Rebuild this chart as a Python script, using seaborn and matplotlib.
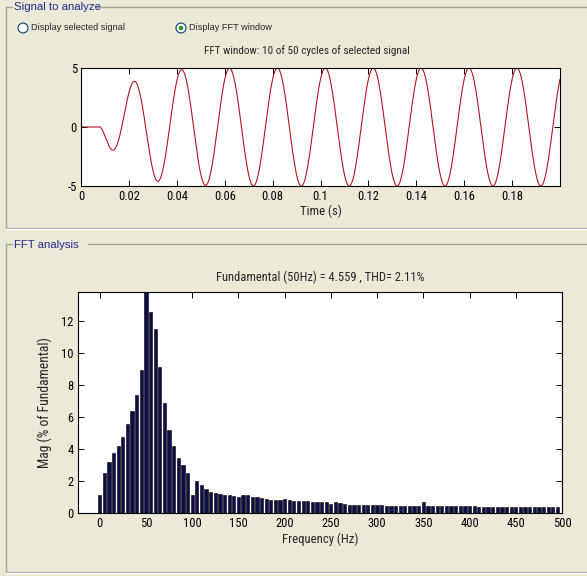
import numpy as np
import pandas as pd
import matplotlib
matplotlib.use("Agg")
import matplotlib.pyplot as plt
from matplotlib import font_manager
from matplotlib.lines import Line2D
from matplotlib.patches import Circle
import seaborn as sns

# ---------------- data ----------------
# Time-domain window: 50 Hz signal, 10 cycles (0 .. 0.2 s)
signal_freq_hz = 50.0
signal_amplitude = 5.0
signal_onset_s = 0.008      # signal is zero before this instant
signal_rise_tau_s = 0.0095  # build-up time constant of the envelope
signal_phase_rad = 0.3 * np.pi
window_length_s = 0.2
time_ticks = [0, 0.02, 0.04, 0.06, 0.08, 0.1, 0.12, 0.14, 0.16, 0.18]
time_tick_labels = ["0", "0.02", "0.04", "0.06", "0.08", "0.1", "0.12", "0.14", "0.16", "0.18"]
signal_yticks = [-5, 0, 5]

# FFT spectrum, 5 Hz resolution, magnitude in % of fundamental
freq_step_hz = 5
harmonic_mag = [
    1.10, 2.50, 3.20, 3.73, 4.18, 4.74, 5.55, 6.40, 7.37, 8.90,
    100.0, 12.55, 11.50, 9.13, 6.90, 5.20, 4.16, 3.44, 2.98, 2.50,
    1.10, 2.00, 1.72, 1.51, 1.33, 1.26, 1.20, 1.14, 1.10, 1.08,
    0.97, 1.14, 1.14, 1.03, 0.97, 0.91, 0.87, 0.83, 0.81, 0.81,
    0.87, 0.83, 0.77, 0.77, 0.77, 0.75, 0.70, 0.66, 0.66, 0.66,
    0.54, 0.66, 0.64, 0.58, 0.52, 0.50, 0.50, 0.50, 0.50, 0.50,
    0.50, 0.48, 0.46, 0.45, 0.45, 0.45, 0.45, 0.45, 0.45, 0.42,
    0.66, 0.43, 0.46, 0.46, 0.46, 0.42, 0.41, 0.41, 0.41, 0.41,
    0.41, 0.41, 0.40, 0.38, 0.37, 0.37, 0.37, 0.37, 0.37, 0.37,
    0.37, 0.37, 0.37, 0.37, 0.37, 0.37, 0.37, 0.37, 0.37, 0.37,
]
harmonic_freq = [i * freq_step_hz for i in range(len(harmonic_mag))]
freq_ticks = [0, 50, 100, 150, 200, 250, 300, 350, 400, 450, 500]
mag_ticks = [0, 2, 4, 6, 8, 10, 12]
mag_ylim_top = 13.8

fundamental_text = "Fundamental (50Hz) = 4.559 , THD= 2.11%"
window_text = "FFT window: 10 of 50 cycles of selected signal"

# ---------------- style ----------------
W, H = 587, 576
BG = "#ece9d8"
GROUP_TITLE = "#1c2a8c"
sns.set_theme(style="white")

# prefer a narrow sans face for the plot text when one is installed
_installed = {f.name for f in font_manager.fontManager.ttflist}
_narrow = [n for n in ("Liberation Sans Narrow", "Arial Narrow", "DejaVu Sans Condensed",
                       "Roboto Condensed", "Open Sans Condensed") if n in _installed]
PLOT_FONT = _narrow + ["Liberation Sans", "DejaVu Sans"]
plt.rcParams["font.family"] = PLOT_FONT
plt.rcParams["xtick.direction"] = "in"
plt.rcParams["ytick.direction"] = "in"
K = 1.0 if _narrow else 0.92
FS_TICK = 9.0 * K
FS_LABEL = 9.2 * K

fig = plt.figure(figsize=(W / 100, H / 100), dpi=100, facecolor=BG)


def px_axes(x0, y0, x1, y1):
    return fig.add_axes([x0 / W, 1 - y1 / H, (x1 - x0) / W, (y1 - y0) / H])


def fx(x):
    return x / W


def fy(y):
    return 1 - y / H


def group_box(title, y_top, y_bot, x_left=6, title_end=None):
    col_d, col_l = "#a5a293", "#ffffff"
    fig.add_artist(Line2D([fx(x_left), fx(12)], [fy(y_top), fy(y_top)], color=col_d, lw=1))
    fig.add_artist(Line2D([fx(title_end), fx(W)], [fy(y_top), fy(y_top)], color=col_d, lw=1))
    fig.add_artist(Line2D([fx(x_left), fx(x_left)], [fy(y_top), fy(y_bot)], color=col_d, lw=1))
    fig.add_artist(Line2D([fx(x_left), fx(W)], [fy(y_bot), fy(y_bot)], color=col_d, lw=1))
    fig.add_artist(Line2D([fx(x_left), fx(W)], [fy(y_bot + 1.2), fy(y_bot + 1.2)], color=col_l, lw=1))
    fig.text(fx(14), fy(y_top + 0.5), title, color=GROUP_TITLE, fontsize=8.2,
             va="center", ha="left", family=["Liberation Sans", "DejaVu Sans"])


def radio(x, y, label, checked):
    fig.add_artist(Circle((fx(x), fy(y)), radius=5 / W, transform=fig.transFigure,
                          facecolor="white", edgecolor="#1c5180", lw=0.9))
    if checked:
        fig.add_artist(Circle((fx(x), fy(y)), radius=2.3 / W, transform=fig.transFigure,
                              facecolor="#21a121", edgecolor="none"))
    fig.text(fx(x + 8), fy(y), label, fontsize=6.6, va="center", ha="left",
             family=["Liberation Sans", "DejaVu Sans"])


group_box("Signal to analyze", 7, 228, title_end=96)
group_box("FFT analysis", 244, 572, title_end=88)
radio(23, 28, "Display selected signal", False)
radio(181, 28, "Display FFT window", True)
fig.text(fx(307), fy(51), window_text, fontsize=8.1 * K, ha="center", va="center")

# ---------------- time-domain window ----------------
t = np.linspace(0, window_length_s, 2001)
envelope = np.where(t >= signal_onset_s,
                    1 - np.exp(-(t - signal_onset_s) / signal_rise_tau_s), 0.0)
sig = signal_amplitude * envelope * np.sin(2 * np.pi * signal_freq_hz * t + signal_phase_rad)
sig_df = pd.DataFrame({"Time (s)": t, "value": sig})

ax1 = px_axes(81, 68, 560, 186)
sns.lineplot(data=sig_df, x="Time (s)", y="value", ax=ax1, color="#b0171f", lw=0.8)
ax1.set_xlim(0, window_length_s)
ax1.set_ylim(-5, 5)
ax1.set_xticks(time_ticks)
ax1.set_xticklabels(time_tick_labels)
ax1.set_yticks(signal_yticks)
ax1.set_yticklabels([str(v) for v in signal_yticks])
ax1.set_xlabel("Time (s)", fontsize=FS_LABEL, labelpad=1)
ax1.set_ylabel("")

# ---------------- FFT spectrum ----------------
spec_df = pd.DataFrame({"Frequency (Hz)": harmonic_freq, "Mag": harmonic_mag})
ax2 = px_axes(78, 292, 562, 513)
sns.barplot(data=spec_df, x="Frequency (Hz)", y="Mag", ax=ax2, native_scale=True,
            width=0.7, color="#0d0d4a", edgecolor="black", linewidth=0.4,
            saturation=1, errorbar=None)
ax2.set_xlim(-23.5, 500)
ax2.set_ylim(0, mag_ylim_top)
ax2.set_xticks(freq_ticks)
ax2.set_xticklabels([str(v) for v in freq_ticks])
ax2.set_yticks(mag_ticks)
ax2.set_yticklabels([str(v) for v in mag_ticks])
ax2.set_xlabel("Frequency (Hz)", fontsize=FS_LABEL, labelpad=2)
ax2.set_ylabel("Mag (% of Fundamental)", fontsize=9.8 * K, labelpad=6)
ax2.set_title(fundamental_text, fontsize=9.0 * K, pad=8)

for ax in (ax1, ax2):
    ax.set_facecolor("white")
    for s in ax.spines.values():
        s.set_color("black")
        s.set_linewidth(0.8)
    ax.tick_params(axis="both", which="both", direction="in", length=4, width=0.7,
                   labelsize=FS_TICK, pad=3, colors="black",
                   top=True, right=True, bottom=True, left=True)

fig.savefig("out.png", dpi=100, facecolor=BG)
